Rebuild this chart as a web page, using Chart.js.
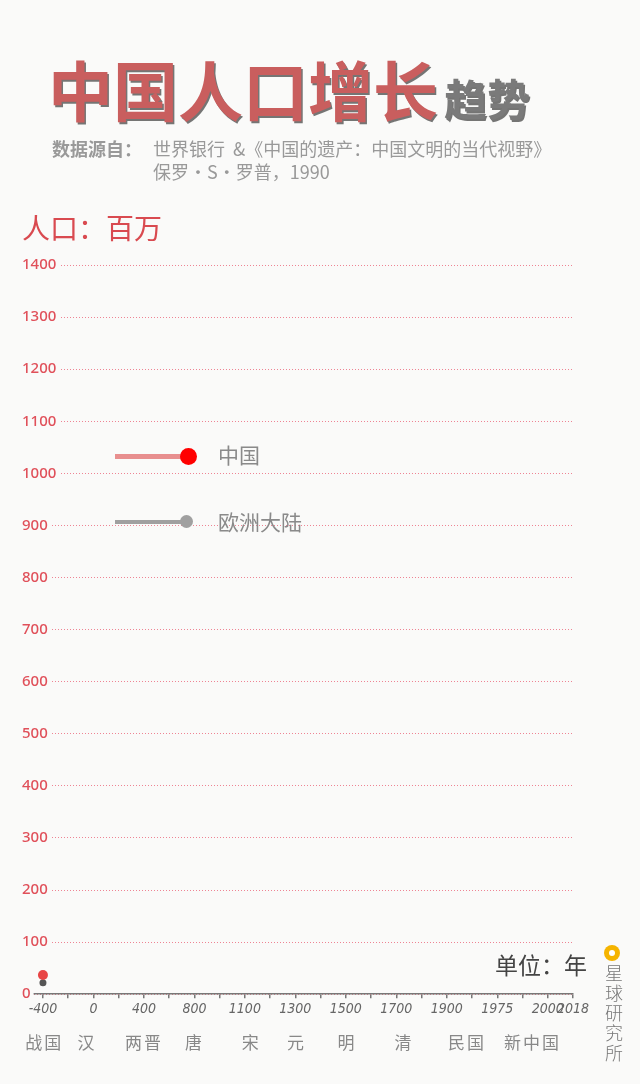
<!DOCTYPE html>
<html lang="zh">
<head>
<meta charset="UTF-8">
<title>中国人口增长趋势</title>
<script src="https://cdn.jsdelivr.net/npm/chart.js"></script>
<style>
  html, body { margin: 0; padding: 0; background: #fafaf9; }
  #page { position: relative; width: 640px; height: 1084px; overflow: hidden; font-family: "Noto Sans CJK SC", "Noto Sans", sans-serif; }
  #chart { position: absolute; left: 0; top: 0; }
  .abs { position: absolute; white-space: nowrap; }
  .title { left: 48px; top: 56px; font-size: 65px; font-weight: 700; color: #c95e5e; line-height: 1; text-shadow: 1.5px 1.5px 0 rgba(60,60,60,0.7); }
  .title small { font-size: 43px; color: #7a7a7a; margin-left: 6px; }
  .source { left: 52px; top: 137px; font-size: 18px; color: #999; line-height: 23px; display: flex; }
  .source b { width: 101px; font-weight: 700; }
  .unit-y { left: 22px; top: 211px; font-size: 28px; color: #d94a50; line-height: 1.2; }
  .unit-x { left: 495px; top: 951px; font-size: 23px; color: #444; line-height: 1.2; }
  .leg-line { position: absolute; height: 5px; }
  .leg-dot { position: absolute; border-radius: 50%; }
  .leg-text { font-size: 21px; color: #8a8a8a; line-height: 1; }
  .era { top: 1032px; font-size: 17px; color: #888; letter-spacing: 2px; transform: translateX(-50%); line-height: 1.2; }
  .logo { left: 604px; top: 945px; width: 16px; height: 16px; border-radius: 50%; background: #f5b400; }
  .logo::after { content: ""; position: absolute; left: 5px; top: 5px; width: 6px; height: 6px; border-radius: 50%; background: #fff; }
  .brand { left: 601px; top: 964px; writing-mode: vertical-rl; font-size: 18px; letter-spacing: 2px; color: #777; font-weight: 300; }
</style>
</head>
<body>
<div id="page">
  <canvas id="chart" width="640" height="1084"></canvas>

  <div class="abs title">中国人口增长<small>趋势</small></div>
  <div class="abs source"><b>数据源自：</b><span>世界银行&nbsp; &amp;《中国的遗产：中国文明的当代视野》<br>保罗·S·罗普，1990</span></div>
  <div class="abs unit-y">人口：百万</div>
  <div class="abs unit-x">单位：年</div>

  <!-- 图例 -->
  <div class="leg-line" style="left:115px; top:454px; width:72px; background:#e88f8f;"></div>
  <div class="leg-dot" style="left:180px; top:448px; width:17px; height:17px; background:#ff0000;"></div>
  <div class="abs leg-text" style="left:218px; top:444px;">中国</div>
  <div class="leg-line" style="left:115px; top:520px; width:70px; height:4px; background:#a0a0a0;"></div>
  <div class="leg-dot" style="left:180px; top:515px; width:13px; height:13px; background:#a0a0a0;"></div>
  <div class="abs leg-text" style="left:218px; top:511px;">欧洲大陆</div>

  <div class="abs logo"></div>
  <div class="abs brand">星球研究所</div>
</div>

<script>
  // 横轴刻度（等距排列）
  const tickLabels = ['-400', '', '0', '', '400', '', '800', '', '1100', '', '1300', '', '1500', '', '1700', '', '1900', '', '1975', '', '2000', '2018'];
  // 朝代及其所在刻度位置
  const eras = ['战国', '汉', '两晋', '唐', '宋', '元', '明', '清', '民国', '新中国'];
  const eraPos = [0.05, 1.75, 4, 6, 8.25, 10.05, 12.05, 14.3, 16.8, 19.4];
  // 数据（百万）
  const years = ['-400'];
  const china = [37];
  const europe = [22];

  const toPoints = arr => arr.map((v, i) => ({ x: tickLabels.indexOf(years[i]), y: v }));

  const chart = new Chart(document.getElementById('chart'), {
    type: 'line',
    data: {
      datasets: [{
        label: '中国',
        data: toPoints(china),
        borderColor: '#e88f8f',
        borderWidth: 5,
        pointRadius: 5,
        pointBackgroundColor: '#e84545',
        pointBorderWidth: 0
      }, {
        label: '欧洲大陆',
        data: toPoints(europe),
        borderColor: '#a0a0a0',
        borderWidth: 4,
        pointRadius: 3.5,
        pointBackgroundColor: '#555',
        pointBorderWidth: 0
      }]
    },
    options: {
      responsive: false,
      animation: false,
      layout: { padding: { left: 22, top: 265, right: 67, bottom: 63 } },
      plugins: { legend: { display: false }, tooltip: { enabled: false } },
      scales: {
        x: {
          type: 'linear',
          min: -0.83,
          max: tickLabels.length - 1,
          afterBuildTicks: s => { s.ticks = tickLabels.map((_, i) => ({ value: i })); },
          grid: { drawOnChartArea: false, tickLength: 4, color: '#777', lineWidth: 1.5 },
          border: { color: '#777', width: 1.5 },
          ticks: {
            autoSkip: false,
            maxRotation: 0,
            padding: 3,
            color: '#666',
            font: { family: '"DejaVu Sans Condensed", "Liberation Sans Narrow", sans-serif', size: 14, style: 'italic' },
            callback: v => tickLabels[v]
          }
        },
        y: {
          min: 0,
          max: 1400,
          border: { display: false, dash: [1, 2] },
          grid: { color: 'rgba(235,110,130,0.85)', drawTicks: false },
          ticks: {
            stepSize: 100,
            mirror: true,
            padding: 0,
            z: 1,
            color: '#e0505a',
            showLabelBackdrop: true,
            backdropColor: '#fafaf9',
            backdropPadding: 3,
            font: { family: '"Noto Sans", sans-serif', size: 15, weight: 500 },
            callback: v => String(v)
          }
        }
      }
    }
  });

  // 朝代标注放在横轴下方
  const xs = chart.scales.x;
  const page = document.getElementById('page');
  eras.forEach((name, i) => {
    const el = document.createElement('div');
    el.className = 'abs era';
    el.textContent = name;
    el.style.left = xs.getPixelForValue(eraPos[i]) + 'px';
    page.appendChild(el);
  });
</script>
</body>
</html>
